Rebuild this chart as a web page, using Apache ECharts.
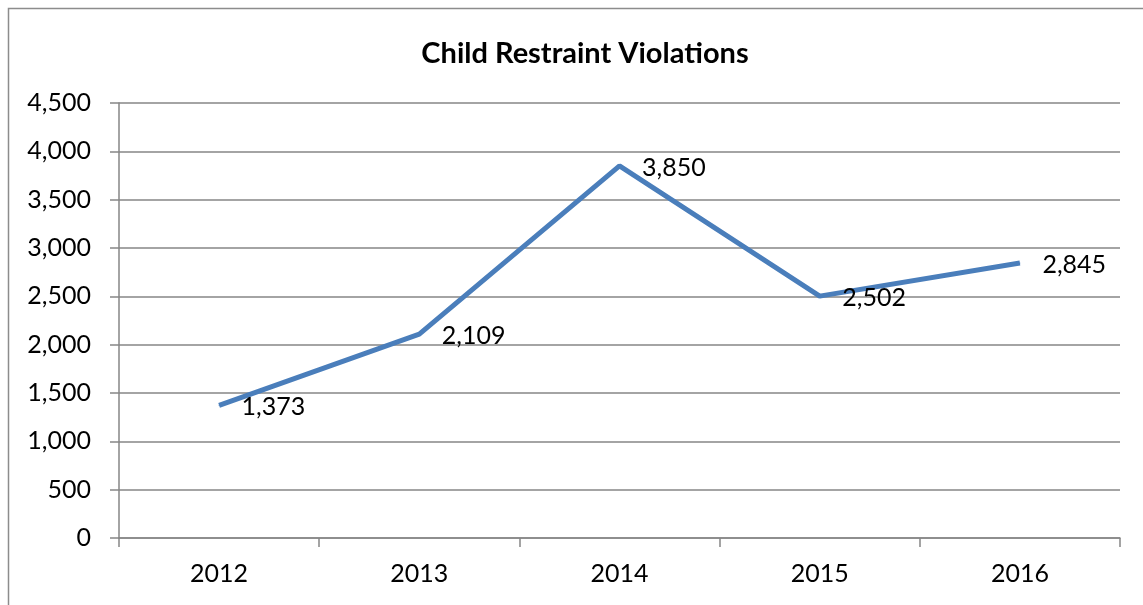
<!DOCTYPE html>
<html>
<head>
<meta charset="utf-8">
<script src="https://cdn.jsdelivr.net/npm/echarts@6/dist/echarts.min.js"></script>
<style>html,body{margin:0;padding:0;background:#fff}#c{width:1143px;height:605px}</style>
</head>
<body>
<div id="c"></div>
<script>
var categories = ['2012', '2013', '2014', '2015', '2016'];
var violations = [1373, 2109, 3850, 2502, 2845];
var yTicks = [0, 500, 1000, 1500, 2000, 2500, 3000, 3500, 4000, 4500];

var font = 'Lato, "Open Sans", sans-serif';
var chart = echarts.init(document.getElementById('c'));
chart.setOption({
  animation: false,
  backgroundColor: '#fff',
  graphic: [{
    type: 'rect', shape: {x: 8.5, y: 8.5, width: 1150, height: 610},
    style: {fill: 'none', stroke: '#8c8c8c', lineWidth: 1.5}, silent: true
  }],
  title: {
    text: 'Child Restraint Violations', left: 580, top: 34, textAlign: 'center',
    textStyle: {fontFamily: font, fontWeight: 'bold', fontSize: 29, color: '#000'}
  },
  grid: {left: 119, right: 23, top: 103, bottom: 67},
  xAxis: {
    type: 'category', data: categories, boundaryGap: true,
    axisLine: {lineStyle: {color: '#868686', width: 1.5}},
    axisTick: {show: true, length: 9, lineStyle: {color: '#868686', width: 1.5}},
    axisLabel: {fontFamily: font, fontSize: 25, color: '#000', margin: 23}
  },
  yAxis: {
    type: 'value', min: yTicks[0], max: yTicks[yTicks.length - 1], interval: 500,
    axisLine: {show: true, lineStyle: {color: '#868686', width: 1.5}},
    axisTick: {show: true, length: 9, lineStyle: {color: '#868686', width: 1.5}},
    splitLine: {lineStyle: {color: '#868686', width: 1.5}},
    axisLabel: {fontFamily: font, fontSize: 25, color: '#000', margin: 28,
      formatter: function (v) { return v.toLocaleString('en-US'); }}
  },
  series: [{
    type: 'line', data: violations, symbol: 'circle', symbolSize: 1, showSymbol: true,
    itemStyle: {color: '#4a7ebb'},
    lineStyle: {color: '#4a7ebb', width: 5},
    label: {show: true, position: 'right', distance: 22, offset: [0, 2],
      fontFamily: font, fontSize: 25, color: '#000',
      formatter: function (p) { return p.value.toLocaleString('en-US'); }}
  }]
});
</script>
</body>
</html>
